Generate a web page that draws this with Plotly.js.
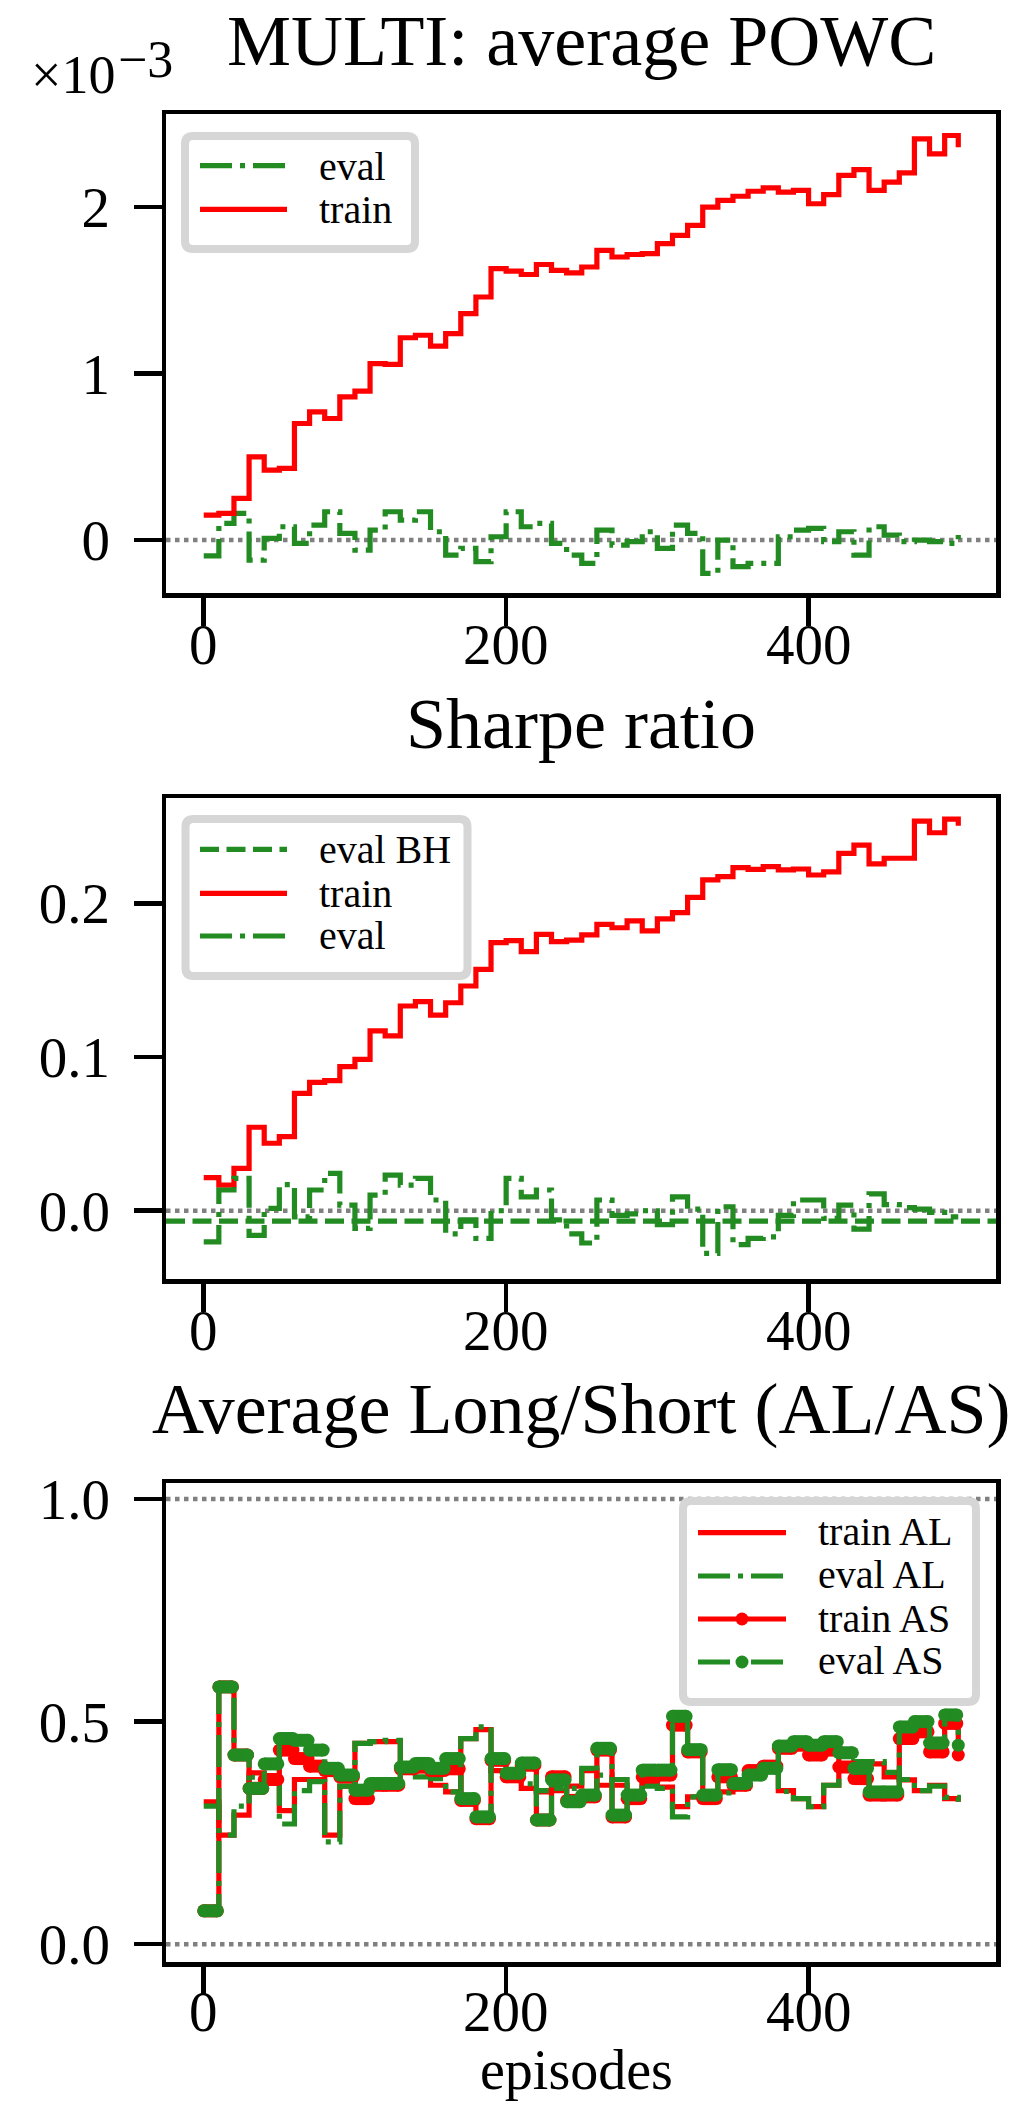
<!DOCTYPE html>
<html>
<head>
<meta charset="utf-8">
<script src="https://cdn.plot.ly/plotly-3.0.1.min.js"></script>
<style>
  html, body { margin: 0; padding: 0; background: #ffffff; }
  #chart { width: 1020px; height: 2118px; }
</style>
</head>
<body>
<div id="chart"></div>
<script>
// ---------------- DATA ----------------
// every series is piecewise constant over blocks of 10 episodes
const BLOCK_STARTS = [0,10,20,30,40,50,60,70,80,90,100,110,120,130,140,150,160,170,180,190,
  200,210,220,230,240,250,260,270,280,290,300,310,320,330,340,350,360,370,380,390,
  400,410,420,430,440,450,460,470,480,490];
const LAST_EPISODE = 499;

// Panel 1: MULTI average POWC (values in units of 1e-3)
const POWC_TRAIN = [0.15,0.16,0.25,0.50,0.42,0.43,0.70,0.77,0.73,0.86,0.895,1.06,1.055,1.215,1.23,1.165,1.24,1.36,1.46,1.63,
  1.615,1.595,1.655,1.62,1.605,1.64,1.74,1.70,1.715,1.72,1.78,1.83,1.89,2.00,2.04,2.065,2.095,2.115,2.09,2.10,
  2.02,2.075,2.19,2.225,2.10,2.15,2.205,2.41,2.32,2.43];
const POWC_TRAIN_LAST = 2.36;
const POWC_EVAL = [-0.095,0.10,0.16,-0.12,0.01,0.08,-0.02,0.09,0.17,0.04,-0.06,0.06,0.17,0.12,0.17,0.05,-0.09,-0.05,-0.13,0.02,
  0.17,0.08,0.10,-0.02,-0.09,-0.14,0.06,-0.03,-0.01,0.05,-0.05,0.09,0.04,-0.20,0.0,-0.16,-0.14,-0.14,0.02,0.06,
  0.07,-0.01,0.05,-0.09,0.08,0.03,-0.01,0.0,-0.01,-0.02];
const POWC_EVAL_LAST = 0.03;
const POWC_EXPONENT = -3;

// Panel 2: Sharpe ratio
const SHARPE_TRAIN = [0.0215,0.0167,0.0276,0.0543,0.0439,0.0482,0.0764,0.0835,0.0846,0.0937,0.0985,0.117,0.1137,0.1332,0.136,0.1273,0.1353,0.1462,0.157,0.1744,
  0.1757,0.1685,0.1798,0.175,0.1761,0.1794,0.1863,0.1841,0.1885,0.182,0.1898,0.1939,0.2039,0.2152,0.2173,0.2232,0.2221,0.2238,0.2217,0.2223,
  0.2184,0.2205,0.2325,0.2379,0.2256,0.2293,0.2293,0.2535,0.2459,0.2548];
const SHARPE_TRAIN_LAST = 0.2505;
const SHARPE_EVAL = [-0.0202,0.0135,0.021,-0.016,0.0016,0.017,-0.004,0.0135,0.0243,0.0037,-0.0115,0.0102,0.0232,0.0167,0.021,0.007,-0.015,-0.006,-0.018,0.0,
  0.021,0.009,0.0135,-0.006,-0.015,-0.021,0.007,-0.003,-0.002,0.0,-0.009,0.009,0.001,-0.0277,0.0026,-0.022,-0.018,-0.017,-0.003,0.007,
  0.007,-0.005,0.0037,-0.012,0.011,0.004,0.002,0.001,-0.001,-0.004];
const SHARPE_EVAL_LAST = -0.004;
const SHARPE_EVAL_BH = -0.0067;

// Panel 3: Average Long / Short
const TRAIN_AL = [0.32,0.245,0.29,0.385,0.37,0.30,0.37,0.37,0.245,0.355,0.451,0.455,0.455,0.39,0.39,0.357,0.342,0.462,0.482,0.39,
  0.385,0.35,0.342,0.345,0.355,0.39,0.357,0.357,0.33,0.36,0.353,0.309,0.331,0.331,0.342,0.35,0.386,0.393,0.345,0.327,
  0.309,0.357,0.395,0.41,0.405,0.376,0.369,0.345,0.357,0.327];
const TRAIN_AL_LAST = 0.32;
const EVAL_AL = [0.31,0.245,0.31,0.375,0.37,0.27,0.345,0.365,0.23,0.355,0.451,0.455,0.458,0.40,0.376,0.372,0.342,0.462,0.488,0.39,
  0.39,0.36,0.345,0.35,0.35,0.395,0.38,0.37,0.335,0.355,0.35,0.286,0.331,0.335,0.34,0.35,0.386,0.396,0.343,0.327,
  0.309,0.357,0.40,0.41,0.41,0.386,0.37,0.345,0.355,0.33];
const EVAL_AL_LAST = 0.32;
const TRAIN_AS = [0.075,0.578,0.425,0.35,0.37,0.436,0.417,0.40,0.39,0.376,0.327,0.357,0.357,0.394,0.398,0.39,0.394,0.323,0.282,0.413,
  0.376,0.402,0.279,0.376,0.323,0.331,0.436,0.286,0.327,0.376,0.38,0.492,0.432,0.327,0.376,0.357,0.39,0.40,0.44,0.447,
  0.425,0.436,0.398,0.372,0.335,0.335,0.462,0.477,0.432,0.496];
const TRAIN_AS_LAST = 0.425;
const EVAL_AS = [0.075,0.578,0.425,0.35,0.405,0.462,0.458,0.436,0.395,0.38,0.346,0.361,0.361,0.398,0.406,0.395,0.417,0.327,0.286,0.417,
  0.384,0.407,0.279,0.369,0.32,0.335,0.44,0.29,0.335,0.391,0.391,0.512,0.437,0.335,0.392,0.361,0.38,0.395,0.445,0.455,
  0.447,0.455,0.43,0.395,0.342,0.342,0.488,0.50,0.452,0.515];
const EVAL_AS_LAST = 0.447;

const ZERO_LINES_TOP = [0];
const ZERO_LINES_MID = [0];
const REF_LINES_BOT = [0, 1];

const TITLES = ["MULTI: average POWC", "Sharpe ratio", "Average Long/Short (AL/AS)"];
const X_LABEL = "episodes";
const X_TICKS = [0, 200, 400];

// ---------------- STYLE ----------------
const RED = "#ff0000", GREEN = "#228b22", GRAY = "#808080";
const FONT = "Liberation Serif";
const LW = 5.2;
const DASHDOT = "32px,8px,5px,8px";
const DASHED = "19px,7.5px";
const DOTTED = "4.5px,4.5px";
const MS = 13;
const TICK_FS = 57;
const TITLE_FS = 72;

const W = 1020, H = 2118, L = 166, R = 996, T = 114, B = 1962;
const px = x => (x - L) / (R - L);
const py = y => (B - y) / (B - T);

// ---------------- helpers ----------------
function stepXY(vals, last) {
  return { x: BLOCK_STARTS.concat([LAST_EPISODE]), y: vals.concat([last]) };
}
function pillXY(vals, last) {
  const x = [], y = [];
  vals.forEach((v, i) => {
    const s = BLOCK_STARTS[i];
    const e = Math.min(s + 9, LAST_EPISODE - 1);
    x.push(s, e, null); y.push(v, v, null);
  });
  x.push(LAST_EPISODE); y.push(last);
  return { x, y };
}
function stepTrace(vals, last, color, dash, xa, ya) {
  const d = stepXY(vals, last);
  return { type: "scatter", mode: "lines", x: d.x, y: d.y, xaxis: xa, yaxis: ya,
    line: { color, width: LW, dash, shape: "hv" }, showlegend: false, hoverinfo: "skip" };
}
function pillTrace(vals, last, color, xa, ya) {
  const d = pillXY(vals, last);
  return { type: "scatter", mode: "lines+markers", x: d.x, y: d.y, xaxis: xa, yaxis: ya,
    line: { color, width: MS }, marker: { color, size: MS, line: { width: 0 } },
    showlegend: false, hoverinfo: "skip" };
}

const traces = [
  // panel 1
  stepTrace(POWC_EVAL, POWC_EVAL_LAST, GREEN, DASHDOT, "x", "y"),
  stepTrace(POWC_TRAIN, POWC_TRAIN_LAST, RED, "solid", "x", "y"),
  // panel 2
  stepTrace(SHARPE_TRAIN, SHARPE_TRAIN_LAST, RED, "solid", "x2", "y2"),
  stepTrace(SHARPE_EVAL, SHARPE_EVAL_LAST, GREEN, DASHDOT, "x2", "y2"),
  // panel 3
  stepTrace(TRAIN_AL, TRAIN_AL_LAST, RED, "solid", "x3", "y3"),
  stepTrace(EVAL_AL, EVAL_AL_LAST, GREEN, DASHDOT, "x3", "y3"),
  stepTrace(TRAIN_AS, TRAIN_AS_LAST, RED, "solid", "x3", "y3"),
  pillTrace(TRAIN_AS, TRAIN_AS_LAST, RED, "x3", "y3"),
  stepTrace(EVAL_AS, EVAL_AS_LAST, GREEN, DASHDOT, "x3", "y3"),
  pillTrace(EVAL_AS, EVAL_AS_LAST, GREEN, "x3", "y3"),
];

// ---------------- axes ----------------
const tickFont = { family: FONT, size: TICK_FS, color: "#000" };
function xAxis(domainAnchor) {
  return { domain: [0, 1], anchor: domainAnchor, range: [-24.95, 523.95], tickvals: X_TICKS,
    ticks: "outside", ticklen: 28, tickwidth: 4.5, tickcolor: "#000",
    showline: true, mirror: true, linewidth: 4.5, linecolor: "#000",
    showgrid: false, zeroline: false, showticklabels: false };
}
function yAxis(domain, range, tickvals, fmt, anchor) {
  return { domain, anchor, range, tickvals, tickformat: fmt,
    ticks: "outside", ticklen: 28, tickwidth: 4.5, tickcolor: "#000",
    showline: true, mirror: true, linewidth: 4.5, linecolor: "#000",
    showgrid: false, zeroline: false, tickfont: tickFont, ticklabelstandoff: 12 };
}

// ---------------- shapes & annotations ----------------
const shapes = [];
const annotations = [];
function hline(yv, yref) {
  shapes.push({ type: "line", xref: yref.replace("y", "x") + " domain", x0: 0, x1: 1,
    yref, y0: yv, y1: yv, layer: "below", line: { color: GRAY, width: 4.5, dash: DOTTED } });
}
ZERO_LINES_TOP.forEach(v => hline(v, "y"));
ZERO_LINES_MID.forEach(v => hline(v, "y2"));
REF_LINES_BOT.forEach(v => hline(v, "y3"));
// eval buy & hold (horizontal reference across the axes)
shapes.push({ type: "line", xref: "x2 domain", x0: 0, x1: 1, yref: "y2", y0: SHARPE_EVAL_BH, y1: SHARPE_EVAL_BH,
  layer: "above", line: { color: GREEN, width: LW, dash: DASHED } });

function text(str, xpx, basePx, size, xanchor) {
  annotations.push({ xref: "paper", yref: "paper", x: px(xpx), y: py(basePx - 0.3375 * size),
    xanchor: xanchor || "left", yanchor: "middle", showarrow: false, text: str,
    font: { family: FONT, size, color: "#000" }, borderpad: 0 });
}
// x tick labels placed on the x axis' own scale
function xTickLabels(xref, basePx) {
  X_TICKS.forEach(v => {
    annotations.push({ xref, yref: "paper", x: v, y: py(basePx - 0.3375 * TICK_FS),
      xanchor: "center", yanchor: "middle", showarrow: false, text: String(v),
      font: { family: FONT, size: TICK_FS, color: "#000" }, borderpad: 0 });
  });
}
function roundRect(x0, y0, x1, y1, r) {
  const P = (x, y) => px(x) + "," + py(y);
  return "M" + P(x0 + r, y0) + " L" + P(x1 - r, y0) + " Q" + P(x1, y0) + " " + P(x1, y0 + r) +
    " L" + P(x1, y1 - r) + " Q" + P(x1, y1) + " " + P(x1 - r, y1) +
    " L" + P(x0 + r, y1) + " Q" + P(x0, y1) + " " + P(x0, y1 - r) +
    " L" + P(x0, y0 + r) + " Q" + P(x0, y0) + " " + P(x0 + r, y0) + " Z";
}
function legend(box, items, sx0, sx1, tx) {
  shapes.push({ type: "path", xref: "paper", yref: "paper", layer: "above",
    path: roundRect(box[0] + 4, box[1] + 4, box[2] - 4, box[3] - 4, 8),
    fillcolor: "rgba(255,255,255,0.85)", line: { color: "#d6d6d6", width: 8 } });
  items.forEach(it => {
    shapes.push({ type: "line", xref: "paper", yref: "paper", layer: "above",
      x0: px(sx0), x1: px(sx1), y0: py(it.sy), y1: py(it.sy),
      line: { color: it.color, width: LW, dash: it.dash } });
    if (it.marker) {
      const cx = (sx0 + sx1) / 2, r = 6.5;
      shapes.push({ type: "circle", xref: "paper", yref: "paper", layer: "above",
        x0: px(cx - r), x1: px(cx + r), y0: py(it.sy + r), y1: py(it.sy - r),
        fillcolor: it.color, line: { width: 0 } });
    }
    text(it.label, tx, it.base, 40, "left");
  });
}

legend([181, 132, 419, 253], [
  { label: "eval", color: GREEN, dash: DASHDOT, sy: 165.7, base: 180 },
  { label: "train", color: RED, dash: "solid", sy: 209.3, base: 222.7 },
], 200, 287, 318);
legend([181.5, 815, 471.5, 980], [
  { label: "eval BH", color: GREEN, dash: DASHED, sy: 849.3, base: 863.3 },
  { label: "train", color: RED, dash: "solid", sy: 893.3, base: 906.7 },
  { label: "eval", color: GREEN, dash: DASHDOT, sy: 936, base: 949.3 },
], 200, 287, 318);
legend([679, 1497, 980, 1706], [
  { label: "train AL", color: RED, dash: "solid", sy: 1532.7, base: 1545 },
  { label: "eval AL", color: GREEN, dash: DASHDOT, sy: 1576, base: 1588.3 },
  { label: "train AS", color: RED, dash: "solid", sy: 1619, base: 1631.7, marker: true },
  { label: "eval AS", color: GREEN, dash: DASHDOT, sy: 1662, base: 1674, marker: true },
], 698, 786, 817);

// x tick labels
xTickLabels("x", 664);
xTickLabels("x2", 1350);
xTickLabels("x3", 2031);

// titles
text(TITLES[0], 581, 65, TITLE_FS, "center");
text(TITLES[1], 581, 748, TITLE_FS, "center");
text(TITLES[2], 581, 1433, TITLE_FS, "center");
// offset text for the top panel
text("×10", 30, 93, 54, "left");
text("−" + Math.abs(POWC_EXPONENT), 117, 77, 52, "left");
// x label
text(X_LABEL, 576, 2089, 56, "center");

const layout = {
  width: W, height: H,
  margin: { l: L, r: W - R, t: T, b: H - B, pad: 0 },
  paper_bgcolor: "#ffffff", plot_bgcolor: "#ffffff",
  showlegend: false,
  font: { family: FONT, color: "#000" },
  xaxis: xAxis("y"),
  xaxis2: xAxis("y2"),
  xaxis3: xAxis("y3"),
  yaxis: yAxis([py(593), py(114)], [-0.318, 2.559], [0, 1, 2], "d", "x"),
  yaxis2: yAxis([py(1279.3), py(798.3)], [-0.0446, 0.2683], [0, 0.1, 0.2], ".1f", "x2"),
  yaxis3: yAxis([py(1962), py(1483)], [-0.040, 1.036], [0, 0.5, 1], ".1f", "x3"),
  shapes, annotations,
};

Plotly.newPlot("chart", traces, layout, { staticPlot: true, displayModeBar: false });
</script>
</body>
</html>
